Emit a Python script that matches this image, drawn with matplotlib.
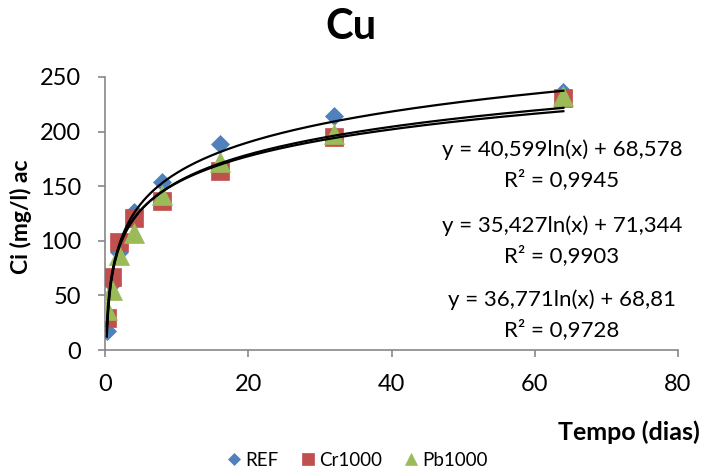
import numpy as np
import matplotlib.pyplot as plt

plt.rcParams['font.family'] = ['Lato', 'DejaVu Sans']

# Dados de Cu (concentração vs tempo)
tempo = [0.25, 1, 2, 4, 8, 16, 32, 64]
ref = [17, 60, 90, 126, 154, 189, 214, 236]
cr1000 = [29, 67, 99, 121, 136, 164, 195, 231]
pb1000 = [37, 55, 87, 107, 142, 172, 198, 233]

# Linhas de tendência logarítmicas: y = a*ln(x) + b
coef_a = [40.599, 35.427, 36.771]
coef_b = [68.578, 71.344, 68.81]
r2 = ['0,9945', '0,9903', '0,9728']

series = ['REF', 'Cr1000', 'Pb1000']
cores = ['#4F81BD', '#C0504D', '#9BBB59']
marcadores = ['D', 's', '^']
tamanhos = [9.5, 13, 14]

fig = plt.figure(figsize=(7.02, 4.70), dpi=100)
ax = fig.add_axes([0.1496, 0.2553, 0.8162, 0.5809])

for nome, ys, cor, m, ms in zip(series, [ref, cr1000, pb1000], cores, marcadores, tamanhos):
    ax.plot(tempo, ys, linestyle='none', marker=m, markersize=ms, color=cor,
            markeredgecolor=cor, markeredgewidth=0.5, label=nome, zorder=3)

xs = np.linspace(min(tempo), max(tempo), 400)
for a, b in zip(coef_a, coef_b):
    ax.plot(xs, a * np.log(xs) + b, color='black', linewidth=1.6, zorder=4)

# Equações das linhas de tendência
pos_y = [150, 226, 300]
for a, b, r, py in zip(coef_a, coef_b, r2, pos_y):
    eq = 'y = {}ln(x) + {}'.format(str(a).replace('.', ','), str(b).replace('.', ','))
    fig.text(562 / 702, 1 - py / 470, eq, ha='center', va='center', fontsize=16)
    fig.text(562 / 702, 1 - (py + 30) / 470, 'R² = ' + r, ha='center', va='center', fontsize=16)

ax.set_xlim(0, 80)
ax.set_ylim(0, 250)
ax.set_xticks([0, 20, 40, 60, 80])
ax.set_yticks([0, 50, 100, 150, 200, 250])
for s in ['top', 'right']:
    ax.spines[s].set_visible(False)
for s in ['left', 'bottom']:
    ax.spines[s].set_color('#878787')
    ax.spines[s].set_linewidth(1.2)
ax.tick_params(colors='#878787', labelcolor='black', labelsize=17, length=5, width=1.2, pad=12)

fig.text(0.5, 1 - 27 / 470, 'Cu', ha='center', va='center', fontsize=30, fontweight='bold')
fig.text(21 / 702, 1 - 217 / 470, 'Ci (mg/l) ac', rotation=90, ha='center', va='center',
         fontsize=16.5, fontweight='bold')
fig.text(0.997, 1 - 432 / 470, 'Tempo (dias)', ha='right', va='center', fontsize=18, fontweight='bold')

fig.legend(loc='center', bbox_to_anchor=(356 / 702, 1 - 460 / 470), ncol=3, frameon=False,
           fontsize=13.5, markerscale=0.62, handletextpad=0.05, columnspacing=1.0, handlelength=1.1)

fig.savefig('out.png', dpi=100)
